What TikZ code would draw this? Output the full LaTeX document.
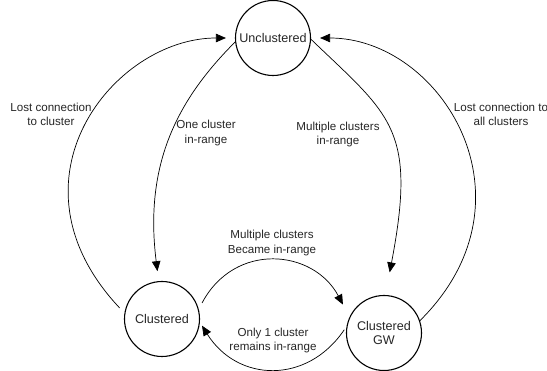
\documentclass[tikz,border=0pt]{standalone}
\usepackage{fontspec}
\setmainfont{Liberation Sans}
\usetikzlibrary{arrows.meta}
\begin{document}
\begin{tikzpicture}[x=1pt,y=-1pt,
  state/.style={circle, draw, line width=1.1pt, minimum size=75pt, inner sep=0pt, align=center, text=black!85, font=\fontsize{12.6}{13.5}\selectfont},
  lbl/.style={align=center, inner sep=0pt, text=black!85, font=\fontsize{11.6}{14.5}\selectfont},
  trans/.style={line width=0.7pt, -{Triangle[length=10pt,width=8.5pt]}}]
\useasboundingbox (0,0) rectangle (547,371);
\node[state] (un) at (273,38) {Unclustered};
\node[state] (cl) at (162,319) {Clustered};
\node[state] (gw) at (384,333) {Clustered\\GW};
% edges
\draw[trans, shorten <=7pt, shorten >=9pt] (cl.171) .. controls +(-125,-133) and +(-121,0) .. (un.180);
\draw[trans, shorten >=10pt] (un.186) .. controls +(-56,56) and +(-15,-119) .. (cl.95);
\draw[trans, shorten >=23pt] (un.-2) .. controls +(79,76) and +(32,-167) .. (gw.88);
\draw[trans, shorten >=9pt] (gw.19) .. controls +(122,-121) and +(130,0) .. (un.0);
\draw[trans, shorten <=7pt, shorten >=14pt] (cl.15) to[out=62,in=118,looseness=1.3] (gw.155);
\draw[trans, shorten <=4pt, shorten >=4pt] (gw.170) to[out=-124,in=-58,looseness=1.23] (cl.-5);
% labels
\node[lbl] (l1) at (51,114.5) {Lost connection\\to cluster};
\node[lbl] (l2) at (206,133) {One cluster\\in-range};
\node[lbl] (l3) at (338,134.5) {Multiple clusters\\in-range};
\node[lbl] (l4) at (501,114.5) {Lost connection to\\all clusters};
\node[lbl] (l5) at (272,243) {Multiple clusters\\Became in-range};
\node[lbl] (l6) at (273,340.5) {Only 1 cluster\\remains in-range};
\end{tikzpicture}
\end{document}
